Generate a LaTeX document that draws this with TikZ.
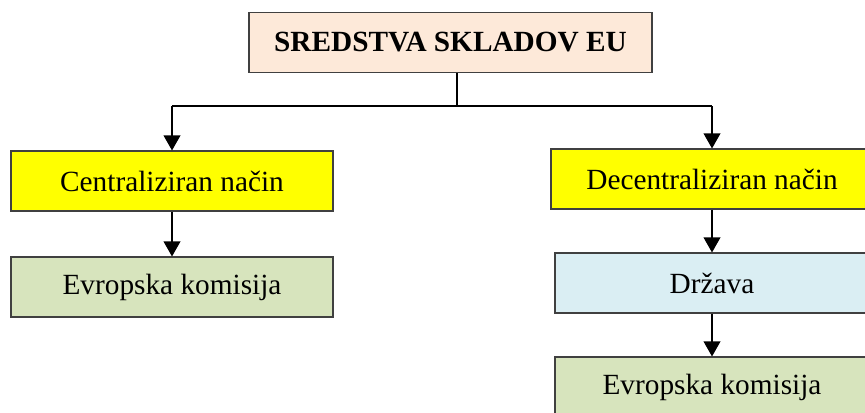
\documentclass[tikz,border=0pt]{standalone}
\usepackage{fontspec}
\setmainfont{Liberation Serif}
\usetikzlibrary{arrows.meta}
\definecolor{peach}{HTML}{FDE9D9}
\definecolor{brightyellow}{HTML}{FFFF00}
\definecolor{sage}{HTML}{D7E4BD}
\definecolor{paleblue}{HTML}{DAEEF3}
\tikzset{
  box/.style = {draw = black!75, line width = 0.9pt, minimum width = 9.66cm, minimum height = 1.8cm, inner sep = 0pt, font = \fontsize{25}{30}\selectfont},
  arr/.style = {line width = 1.2pt, -{Triangle[width = 0.5cm, length = 0.45cm]}}
}
\begin{document}
\begin{tikzpicture}[x = 0.03cm, y = -0.03cm]
	\useasboundingbox (0, 0) rectangle (865, 412);
	\node[box, fill = peach, minimum width = 12.09cm, font = \fontsize{25}{30}\selectfont\bfseries] (fonds) at (450.5, 42.5) {SREDSTVA SKLADOV EU};
	\node[box, fill = brightyellow] (central) at (172, 181) {Centraliziran način};
	\node[box, fill = sage] (commL) at (172, 287) {Evropska komisija};
	\node[box, fill = brightyellow] (decentral) at (712, 179) {Decentraliziran način};
	\node[box, fill = paleblue, minimum width = 9.42cm] (state) at (712, 283) {Država};
	\node[box, fill = sage, minimum width = 9.42cm] (commR) at (712, 387) {Evropska komisija};
	\coordinate (split) at (457, 106);
	\draw[line width = 1.2pt] (fonds.south -| split) -- (split);
	\draw[line width = 1.6pt] (split) -- (split -| central.north) (split) -- (split -| decentral.north);
	\draw[arr] (split -| central.north) -- (central.north);
	\draw[arr] (split -| decentral.north) -- (decentral.north);
	\draw[arr] (central) -- (commL);
	\draw[arr] (decentral) -- (state);
	\draw[arr] (state) -- (commR);
\end{tikzpicture}
\end{document}
